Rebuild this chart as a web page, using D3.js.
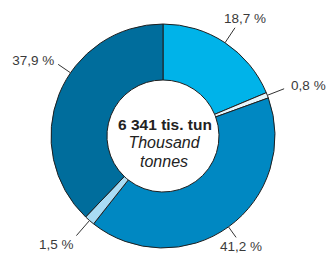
<!DOCTYPE html>
<html>
<head>
<meta charset="utf-8">
<script src="https://cdn.jsdelivr.net/npm/d3@7"></script>
<style>
  body { margin: 0; background: #fff; }
  text { font-family: "Liberation Sans", Arial, sans-serif; }
</style>
</head>
<body>
<div id="chart"></div>
<script>
// slices, clockwise from 12 o'clock
var shares = [18.7, 0.8, 41.2, 1.5, 37.9];
var shareLabels = ["18,7 %", "0,8 %", "41,2 %", "1,5 %", "37,9 %"];
var sliceColors = ["#00b3e9", "#e6f5fc", "#0088c2", "#a9dcf4", "#006d9c"];
var totalLines = ["6 341 tis. tun", "Thousand", "tonnes"];

var svgWidth = 332;
var svgHeight = 256;
var cx = 163, cy = 136;
var outerR = 112, innerR = 56;

var svg = d3.select("#chart")
  .append("svg")
  .attr("width", svgWidth)
  .attr("height", svgHeight);

var g = svg.append("g")
  .attr("transform", `translate(${cx}, ${cy})`);

var pie = d3.pie().sort(null).value(d => d);
var arcs = pie(shares);

var arc = d3.arc().innerRadius(innerR).outerRadius(outerR);

g.selectAll("path.slice")
  .data(arcs)
  .enter()
  .append("path")
  .attr("class", "slice")
  .attr("d", arc)
  .attr("fill", (d, i) => sliceColors[i])
  .attr("stroke", "#1f1f1f")
  .attr("stroke-width", 1);

// leader lines: angle shift (deg), outer length, text offset, anchor
var labelLayout = [
  { shift: 0, len: 130, dx: -11, dy: -9, anchor: "start" },
  { shift: 0, len: 130, dx: 7, dy: -3, anchor: "start" },
  { shift: 0, len: 125, dx: -16, dy: 9, anchor: "start" },
  { shift: 0, len: 132, dx: -3, dy: 9, anchor: "end" },
  { shift: 12.5, len: 127, dx: -4, dy: -4, anchor: "end" }
];

function polar(a, r) {
  return [Math.sin(a) * r, -Math.cos(a) * r];
}

arcs.forEach(function(d, i) {
  var lay = labelLayout[i];
  var mid = (d.startAngle + d.endAngle) / 2 + lay.shift * Math.PI / 180;
  var p0 = polar(mid, outerR);
  var p1 = polar(mid, lay.len);
  g.append("line")
    .attr("x1", p0[0]).attr("y1", p0[1])
    .attr("x2", p1[0]).attr("y2", p1[1])
    .attr("stroke", "#333")
    .attr("stroke-width", 1);
  g.append("text")
    .attr("x", p1[0] + lay.dx)
    .attr("y", p1[1] + lay.dy)
    .attr("text-anchor", lay.anchor)
    .attr("dominant-baseline", "central")
    .attr("font-size", "13.5px")
    .attr("fill", "#3a3a3a")
    .text(shareLabels[i]);
});

// centre total
g.append("text")
  .attr("x", 2).attr("y", -12)
  .attr("text-anchor", "middle")
  .attr("dominant-baseline", "central")
  .attr("font-size", "15.5px")
  .attr("font-weight", "bold")
  .attr("fill", "#222")
  .text(totalLines[0]);

g.append("text")
  .attr("x", 1).attr("y", 6)
  .attr("text-anchor", "middle")
  .attr("dominant-baseline", "central")
  .attr("font-size", "16px")
  .attr("font-style", "italic")
  .attr("fill", "#222")
  .text(totalLines[1]);

g.append("text")
  .attr("x", 1).attr("y", 25)
  .attr("text-anchor", "middle")
  .attr("dominant-baseline", "central")
  .attr("font-size", "16px")
  .attr("font-style", "italic")
  .attr("fill", "#222")
  .text(totalLines[2]);
</script>
</body>
</html>
